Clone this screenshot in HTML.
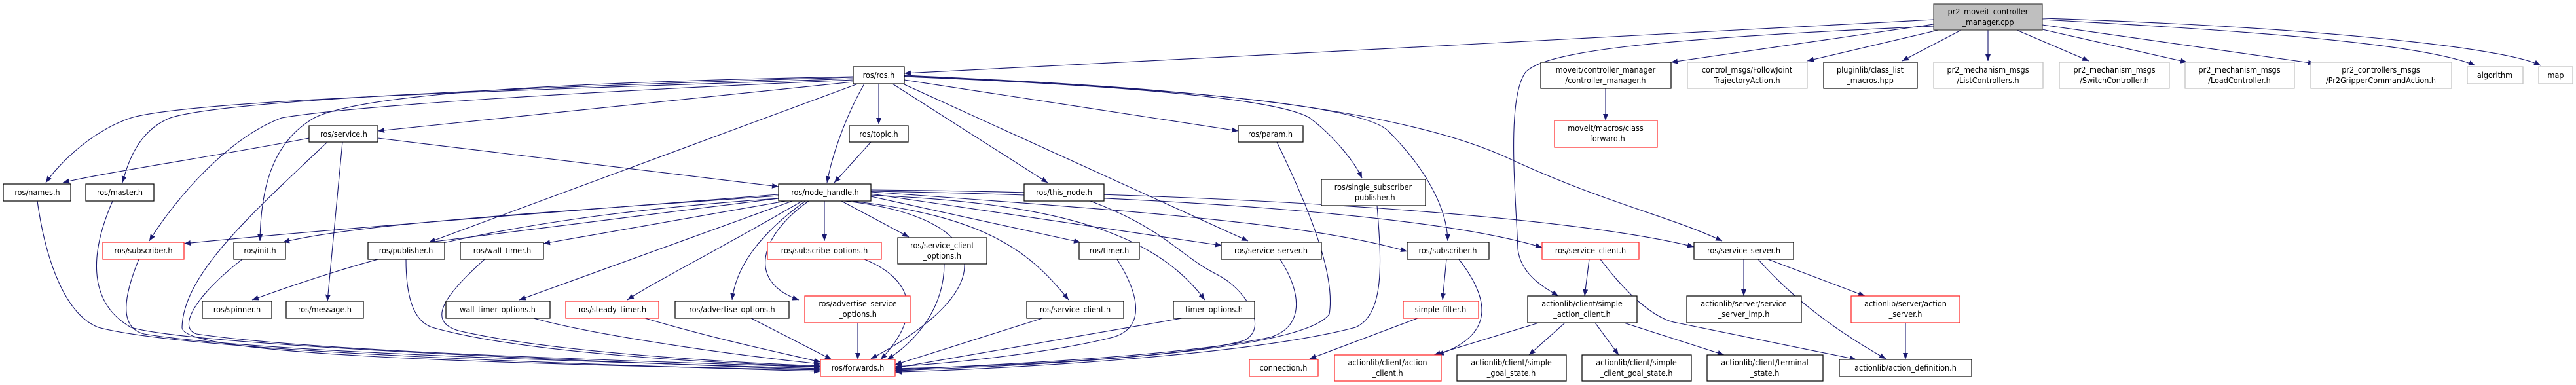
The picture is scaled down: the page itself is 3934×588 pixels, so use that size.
<!DOCTYPE html>
<html><head><meta charset="utf-8"><style>
html,body{margin:0;padding:0;background:#fff;}
svg{display:block;}
text{font-family:"DejaVu Sans Condensed","Liberation Sans",sans-serif;font-size:12.5px;fill:#000;text-anchor:middle;}
.e{fill:none;stroke:#191970;stroke-width:1.1;marker-end:url(#a);}
.n{fill:#fff;stroke:#000;stroke-width:1.2;}
.r{fill:#fff;stroke:#ff2020;stroke-width:1.2;}
.g{fill:#fff;stroke:#bfbfbf;stroke-width:1.2;}
</style></head><body>
<svg width="3934" height="588" viewBox="0 0 3934 588" xmlns="http://www.w3.org/2000/svg">
<defs><marker id="a" markerUnits="userSpaceOnUse" markerWidth="11" markerHeight="8" refX="10" refY="4" orient="auto"><path d="M0,0 L10,4 L0,8 z" fill="#191970"/></marker></defs>
<g>
<path class="e" d="M2953,30 C2600,45 1800,95 1381,112"/>
<path class="e" d="M2953,40 C2500,60 2360,80 2330,110 C2300,150 2315,300 2318,380 C2322,420 2360,440 2380,452"/>
<path class="e" d="M2953,37 L2552,95"/>
<path class="e" d="M2960,46 L2760,93"/>
<path class="e" d="M2995,46 L2905,93"/>
<path class="e" d="M3036,46 L3036,93"/>
<path class="e" d="M3080,46 L3190,93"/>
<path class="e" d="M3119,45 L3340,95"/>
<path class="e" d="M3119,38 L3535,97"/>
<path class="e" d="M3119,30 C3400,45 3700,65 3780,100"/>
<path class="e" d="M3119,28 C3500,40 3820,70 3880,100"/>
<path class="e" d="M1303,120 C900,135 300,150 200,180 C140,200 90,250 70,279"/>
<path class="e" d="M1303,118 C900,130 350,150 260,180 C210,200 195,250 187,279"/>
<path class="e" d="M1303,122 C900,140 550,160 430,180 C350,210 270,300 228,368"/>
<path class="e" d="M1303,117 C900,125 560,140 480,180 C410,220 398,300 397,368"/>
<path class="e" d="M1303,125 L577,200"/>
<path class="e" d="M1310,128 L655,370"/>
<path class="e" d="M1320,128 C1290,180 1270,240 1263,279"/>
<path class="e" d="M1342,128 L1342,190"/>
<path class="e" d="M1363,128 L1600,279"/>
<path class="e" d="M1381,122 L1891,200"/>
<path class="e" d="M1381,129 L1906,368"/>
<path class="e" d="M1381,117 C1700,130 1950,150 2000,180 C2040,210 2070,250 2080,272"/>
<path class="e" d="M1381,116 C1800,135 2080,160 2120,200 C2180,260 2210,320 2211,368"/>
<path class="e" d="M1381,115 C1700,130 2100,150 2300,240 C2450,310 2550,330 2630,368"/>
<path class="e" d="M472,211 C350,235 150,265 96,279"/>
<path class="e" d="M523,217 L500,460"/>
<path class="e" d="M500,217 C380,330 280,420 278,500 C276,540 700,555 1253,565"/>
<path class="e" d="M577,211 L1189,285"/>
<path class="e" d="M1330,217 L1274,279"/>
<path class="e" d="M1189,297 C900,320 500,350 281,372"/>
<path class="e" d="M1189,299 C900,320 550,340 432,370"/>
<path class="e" d="M1189,303 C800,330 600,380 385,458"/>
<path class="e" d="M1189,303 L655,370"/>
<path class="e" d="M1200,307 L830,372"/>
<path class="e" d="M1210,307 L793,458"/>
<path class="e" d="M1225,307 C1100,380 1000,430 958,458"/>
<path class="e" d="M1230,307 C1170,350 1125,400 1118,458"/>
<path class="e" d="M1235,307 C1160,360 1140,430 1220,458"/>
<path class="e" d="M1259,307 L1259,368"/>
<path class="e" d="M1285,307 L1388,362"/>
<path class="e" d="M1290,307 C1500,330 1550,430 1330,548"/>
<path class="e" d="M1300,307 C1500,330 1570,380 1632,458"/>
<path class="e" d="M1330,300 L1650,370"/>
<path class="e" d="M1330,298 C1600,310 1760,350 1840,458"/>
<path class="e" d="M1330,296 L1866,375"/>
<path class="e" d="M1330,293 C1700,320 2000,340 2149,384"/>
<path class="e" d="M1330,292 C1800,300 2200,330 2355,378"/>
<path class="e" d="M1330,290 C1900,295 2400,330 2587,377"/>
<path class="e" d="M57,307 C70,400 100,480 150,500 C300,540 1000,560 1253,567"/>
<path class="e" d="M172,307 C140,380 130,460 200,500 C300,530 1000,555 1253,565"/>
<path class="e" d="M212,396 C190,450 180,500 220,510 C400,540 1000,555 1253,563"/>
<path class="e" d="M370,396 C300,450 270,500 300,510 C500,540 1100,555 1253,561"/>
<path class="e" d="M620,396 C620,450 630,490 660,500 C800,540 1100,555 1253,560"/>
<path class="e" d="M740,396 C680,450 650,490 700,505 C850,540 1150,555 1253,559"/>
<path class="e" d="M815,486 C900,510 1100,540 1253,556"/>
<path class="e" d="M985,486 C1100,520 1200,540 1253,553"/>
<path class="e" d="M1147,486 L1270,549"/>
<path class="e" d="M1310,493 L1310,549"/>
<path class="e" d="M1320,396 C1380,420 1420,470 1345,549"/>
<path class="e" d="M1442,403 C1442,470 1400,520 1355,549"/>
<path class="e" d="M1592,486 L1367,557"/>
<path class="e" d="M1706,396 C1740,450 1750,500 1700,515 C1600,540 1450,555 1367,560"/>
<path class="e" d="M1805,486 L1367,562"/>
<path class="e" d="M1955,396 C1990,450 1990,500 1940,515 C1800,545 1500,558 1367,565"/>
<path class="e" d="M1665,307 C1780,350 1800,390 1860,420 C1900,440 1940,500 1900,520 C1800,548 1500,560 1367,563"/>
<path class="e" d="M1950,217 C2000,320 2040,420 2030,480 C2000,520 1800,550 1367,566"/>
<path class="e" d="M2103,314 C2110,400 2115,480 2070,500 C1900,545 1500,565 1367,568"/>
<path class="e" d="M2209,396 L2203,458"/>
<path class="e" d="M2228,396 C2270,450 2290,510 2195,542"/>
<path class="e" d="M2165,486 L2000,548"/>
<path class="e" d="M2427,396 L2420,452"/>
<path class="e" d="M2444,396 C2500,470 2540,490 2561,493 L2835,549"/>
<path class="e" d="M2663,396 L2663,452"/>
<path class="e" d="M2685,396 C2750,470 2830,520 2880,548"/>
<path class="e" d="M2700,396 L2848,452"/>
<path class="e" d="M2910,493 L2910,549"/>
<path class="e" d="M2350,493 L2190,542"/>
<path class="e" d="M2390,493 L2335,542"/>
<path class="e" d="M2436,493 L2472,542"/>
<path class="e" d="M2480,493 L2633,542"/>
<path class="e" d="M2452,135 L2452,184"/>
</g>
<g>
<!-- top -->
<rect x="2953" y="6" width="166" height="40" fill="#bfbfbf" stroke="#404040" stroke-width="1.2"/>
<text x="3036" y="22">pr2_moveit_controller</text><text x="3036" y="38">_manager.cpp</text>
<!-- row1 -->
<rect class="n" x="1303" y="102" width="78" height="26"/><text x="1342" y="119">ros/ros.h</text>
<rect class="n" x="2353" y="95" width="199" height="40"/><text x="2452" y="111">moveit/controller_manager</text><text x="2452" y="127">/controller_manager.h</text>
<rect class="g" x="2577" y="95" width="183" height="40"/><text x="2668" y="111">control_msgs/FollowJoint</text><text x="2668" y="127">TrajectoryAction.h</text>
<rect class="n" x="2785" y="95" width="143" height="40"/><text x="2856" y="111">pluginlib/class_list</text><text x="2856" y="127">_macros.hpp</text>
<rect class="g" x="2953" y="95" width="167" height="40"/><text x="3036" y="111">pr2_mechanism_msgs</text><text x="3036" y="127">/ListControllers.h</text>
<rect class="g" x="3145" y="95" width="168" height="40"/><text x="3229" y="111">pr2_mechanism_msgs</text><text x="3229" y="127">/SwitchController.h</text>
<rect class="g" x="3337" y="95" width="167" height="40"/><text x="3420" y="111">pr2_mechanism_msgs</text><text x="3420" y="127">/LoadController.h</text>
<rect class="g" x="3529" y="95" width="215" height="40"/><text x="3636" y="111">pr2_controllers_msgs</text><text x="3636" y="127">/Pr2GripperCommandAction.h</text>
<rect class="g" x="3768" y="102" width="85" height="26"/><text x="3810" y="119">algorithm</text>
<rect class="g" x="3877" y="102" width="52" height="26"/><text x="3903" y="119">map</text>
<!-- row2 -->
<rect class="n" x="472" y="192" width="105" height="25"/><text x="525" y="209">ros/service.h</text>
<rect class="n" x="1297" y="192" width="90" height="25"/><text x="1342" y="209">ros/topic.h</text>
<rect class="n" x="1891" y="192" width="99" height="25"/><text x="1940" y="209">ros/param.h</text>
<rect class="r" x="2374" y="184" width="157" height="41"/><text x="2452" y="200">moveit/macros/class</text><text x="2452" y="216">_forward.h</text>
<!-- row3 -->
<rect class="n" x="5" y="281" width="103" height="26"/><text x="57" y="298">ros/names.h</text>
<rect class="n" x="131" y="281" width="104" height="26"/><text x="183" y="298">ros/master.h</text>
<rect class="n" x="1189" y="281" width="141" height="26"/><text x="1260" y="298">ros/node_handle.h</text>
<rect class="n" x="1564" y="281" width="122" height="26"/><text x="1625" y="298">ros/this_node.h</text>
<rect class="n" x="2018" y="274" width="159" height="40"/><text x="2097" y="290">ros/single_subscriber</text><text x="2097" y="306">_publisher.h</text>
<!-- row4 -->
<rect class="r" x="157" y="370" width="124" height="26"/><text x="219" y="387">ros/subscriber.h</text>
<rect class="n" x="357" y="370" width="79" height="26"/><text x="397" y="387">ros/init.h</text>
<rect class="n" x="562" y="370" width="117" height="26"/><text x="620" y="387">ros/publisher.h</text>
<rect class="n" x="703" y="370" width="127" height="26"/><text x="767" y="387">ros/wall_timer.h</text>
<rect class="r" x="1172" y="370" width="174" height="26"/><text x="1259" y="387">ros/subscribe_options.h</text>
<rect class="n" x="1371" y="363" width="136" height="40"/><text x="1439" y="379">ros/service_client</text><text x="1439" y="395">_options.h</text>
<rect class="n" x="1648" y="370" width="92" height="26"/><text x="1694" y="387">ros/timer.h</text>
<rect class="n" x="1865" y="370" width="153" height="26"/><text x="1941" y="387">ros/service_server.h</text>
<rect class="n" x="2149" y="370" width="125" height="26"/><text x="2211" y="387">ros/subscriber.h</text>
<rect class="r" x="2355" y="370" width="148" height="26"/><text x="2429" y="387">ros/service_client.h</text>
<rect class="n" x="2587" y="370" width="152" height="26"/><text x="2663" y="387">ros/service_server.h</text>
<!-- row5 -->
<rect class="n" x="309" y="460" width="106" height="26"/><text x="362" y="477">ros/spinner.h</text>
<rect class="n" x="437" y="460" width="118" height="26"/><text x="496" y="477">ros/message.h</text>
<rect class="n" x="681" y="460" width="159" height="26"/><text x="760" y="477">wall_timer_options.h</text>
<rect class="r" x="864" y="460" width="142" height="26"/><text x="935" y="477">ros/steady_timer.h</text>
<rect class="n" x="1031" y="460" width="174" height="26"/><text x="1118" y="477">ros/advertise_options.h</text>
<rect class="r" x="1229" y="452" width="161" height="41"/><text x="1310" y="468">ros/advertise_service</text><text x="1310" y="484">_options.h</text>
<rect class="n" x="1568" y="460" width="148" height="26"/><text x="1642" y="477">ros/service_client.h</text>
<rect class="n" x="1792" y="460" width="124" height="26"/><text x="1854" y="477">timer_options.h</text>
<rect class="r" x="2143" y="460" width="115" height="26"/><text x="2200" y="477">simple_filter.h</text>
<rect class="n" x="2333" y="452" width="167" height="41"/><text x="2416" y="468">actionlib/client/simple</text><text x="2416" y="484">_action_client.h</text>
<rect class="n" x="2576" y="452" width="175" height="41"/><text x="2663" y="468">actionlib/server/service</text><text x="2663" y="484">_server_imp.h</text>
<rect class="r" x="2827" y="452" width="166" height="41"/><text x="2910" y="468">actionlib/server/action</text><text x="2910" y="484">_server.h</text>
<!-- row6 -->
<rect class="r" x="1253" y="549" width="114" height="26"/><text x="1310" y="566">ros/forwards.h</text>
<rect class="r" x="1908" y="549" width="105" height="26"/><text x="1960" y="566">connection.h</text>
<rect class="r" x="2038" y="542" width="163" height="40"/><text x="2119" y="558">actionlib/client/action</text><text x="2119" y="574">_client.h</text>
<rect class="n" x="2225" y="542" width="167" height="40"/><text x="2308" y="558">actionlib/client/simple</text><text x="2308" y="574">_goal_state.h</text>
<rect class="n" x="2416" y="542" width="167" height="40"/><text x="2499" y="558">actionlib/client/simple</text><text x="2499" y="574">_client_goal_state.h</text>
<rect class="n" x="2607" y="542" width="177" height="40"/><text x="2695" y="558">actionlib/client/terminal</text><text x="2695" y="574">_state.h</text>
<rect class="n" x="2809" y="549" width="202" height="26"/><text x="2910" y="566">actionlib/action_definition.h</text>
</g>
</svg>
</body></html>
